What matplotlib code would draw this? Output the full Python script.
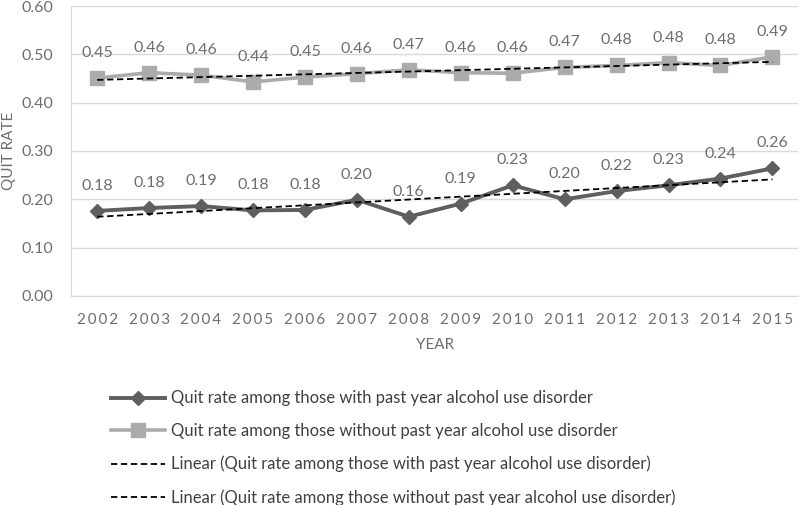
import numpy as np
import matplotlib
matplotlib.use('Agg')
import matplotlib.pyplot as plt
from matplotlib.lines import Line2D

plt.rcParams['font.family'] = ['Lato', 'DejaVu Sans']

years = [2002, 2003, 2004, 2005, 2006, 2007, 2008, 2009, 2010, 2011, 2012, 2013, 2014, 2015]
with_aud = [0.176, 0.182, 0.186, 0.177, 0.178, 0.199, 0.164, 0.191, 0.229, 0.200, 0.217, 0.229, 0.243, 0.264]
without_aud = [0.451, 0.462, 0.457, 0.443, 0.453, 0.460, 0.468, 0.462, 0.461, 0.473, 0.477, 0.483, 0.477, 0.495]

lbl_with = 'Quit rate among those with past year alcohol use disorder'
lbl_without = 'Quit rate among those without past year alcohol use disorder'

dark = '#5f5f5f'
light = '#ababab'
txt = '#6e6e6e'

fig = plt.figure(figsize=(8, 5.05), dpi=100)
ax = fig.add_axes([0.089, 0.414, 0.909, 0.574])

x = np.arange(len(years))
ax.plot(x, with_aud, color=dark, lw=2.8, marker='D', ms=7.5, zorder=3)
ax.plot(x, without_aud, color=light, lw=2.6, marker='s', ms=10, zorder=3)

# linear trendlines
for s in [with_aud, without_aud]:
    k, b = np.polyfit(x, s, 1)
    ax.plot(x, k * x + b, color='black', ls=(0, (3.5, 2)), lw=1.3, zorder=4)

# data labels
for s in [with_aud, without_aud]:
    for xi, v in zip(x, s):
        ax.annotate('%.2f' % v, (xi, v), xytext=(0, 18), textcoords='offset pixels',
                    ha='center', va='bottom', fontsize=11.5, color=txt)

ax.set_xlim(-0.5, len(years) - 0.5)
ax.set_ylim(0, 0.6)
ax.set_yticks(np.arange(0, 0.61, 0.1))
ax.set_yticklabels(['%.2f' % t for t in np.arange(0, 0.61, 0.1)], fontsize=11.5, color=txt)
ax.set_xticks(x)
ax.set_xticklabels(['\u2009'.join(str(y)) for y in years], fontsize=11, color=txt)
ax.tick_params(length=0)
ax.tick_params(axis='y', pad=13)
ax.tick_params(axis='x', pad=12)
ax.grid(axis='y', color='#d9d9d9', lw=1)
ax.set_axisbelow(True)
for sp in ['top', 'right']:
    ax.spines[sp].set_visible(False)
for sp in ['left', 'bottom']:
    ax.spines[sp].set_color('#d9d9d9')
ax.set_xlabel('YEAR', fontsize=11, color=txt, labelpad=8)
ax.set_ylabel('QUIT RATE', fontsize=11, color=txt, labelpad=4)

handles = [
    Line2D([], [], color=dark, lw=2.8, marker='D', ms=7.5),
    Line2D([], [], color=light, lw=2.6, marker='s', ms=10),
    Line2D([], [], color='black', ls=(0, (3.5, 2)), lw=1.3),
    Line2D([], [], color='black', ls=(0, (3.5, 2)), lw=1.3),
]
labels = [lbl_with, lbl_without,
          'Linear (' + lbl_with + ')', 'Linear (' + lbl_without + ')']
fig.legend(handles, labels, loc='upper left', bbox_to_anchor=(0.131, 0.24),
           frameon=False, fontsize=12, labelcolor='#404040', handlelength=3.2,
           labelspacing=1.0, handletextpad=0.4, borderaxespad=0)

fig.savefig('out.png', dpi=100)
